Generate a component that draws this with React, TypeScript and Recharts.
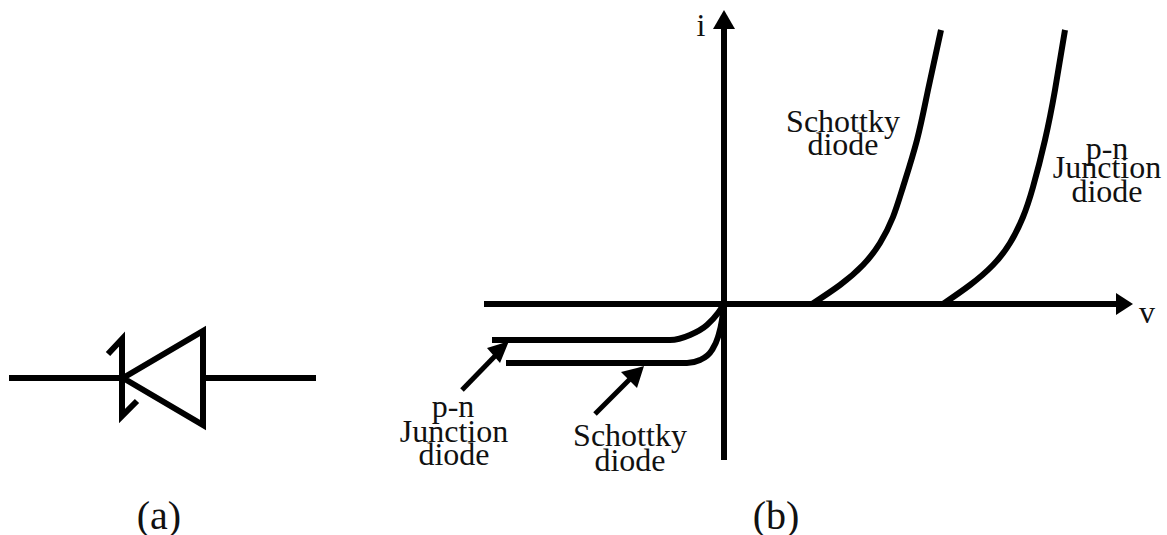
import { ComposedChart, Line, Area, ReferenceDot, XAxis, YAxis } from "recharts";

// values, one unit is about one pixel, origin where the axes cross
const schottkyForward = [
	{ v: 88, i: 0 },
	{ v: 116, i: 19 },
	{ v: 139, i: 39 },
	{ v: 156, i: 61 },
	{ v: 169, i: 87 },
	{ v: 179, i: 117 },
	{ v: 193, i: 164 },
	{ v: 204, i: 214 },
	{ v: 217, i: 274 },
];
const junctionForward = [
	{ v: 219, i: 0 },
	{ v: 246, i: 19 },
	{ v: 269, i: 39 },
	{ v: 286, i: 61 },
	{ v: 299, i: 87 },
	{ v: 309, i: 117 },
	{ v: 321, i: 164 },
	{ v: 331, i: 214 },
	{ v: 341, i: 274 },
];
const junctionReverse = [
	{ v: -232, i: -36 },
	{ v: -54, i: -36 },
	{ v: -34, i: -31 },
	{ v: -17, i: -21 },
	{ v: -6, i: -9 },
	{ v: 0, i: 0 },
];
const schottkyReverse = [
	{ v: -218, i: -59 },
	{ v: -37, i: -59 },
	{ v: -24, i: -56 },
	{ v: -12, i: -46 },
	{ v: -6, i: -33 },
	{ v: -2, i: -16 },
	{ v: 0, i: 0 },
];

// axes
const vAxisLine = [
	{ v: -240, i: 0 },
	{ v: 392, i: 0 },
];
const iAxisLine = [
	{ v: 0, i: 275 },
	{ v: 0, i: -156 },
];

// pointers from the labels
const junctionPointer = [
	{ v: -262, i: -86 },
	{ v: -228, i: -51 },
];
const schottkyPointer = [
	{ v: -129, i: -110 },
	{ v: -94, i: -75 },
];

// arrow heads, as low/high bands
const vAxisHead = [
	{ v: 392, band: [-11, 11] },
	{ v: 409, band: [0, 0] },
];
const iAxisHead = [
	{ v: -11, band: [275, 275] },
	{ v: 0, band: [275, 294] },
	{ v: 11, band: [275, 275] },
];
const junctionHead = [
	{ v: -237, band: [-44, -44] },
	{ v: -224, band: [-59, -40] },
	{ v: -215, band: [-37, -37] },
];
const schottkyHead = [
	{ v: -103, band: [-68, -68] },
	{ v: -87, band: [-84, -64] },
	{ v: -80, band: [-62, -62] },
];

// diode symbol (a)
const wireLeft = [
	{ v: -715, i: -74 },
	{ v: -601, i: -74 },
];
const wireRight = [
	{ v: -519, i: -74 },
	{ v: -408, i: -74 },
];
const triangle = [
	{ v: -601, i: -74 },
	{ v: -521, i: -27 },
	{ v: -521, i: -121 },
	{ v: -601, i: -74 },
];
const cathode = [
	{ v: -616, i: -50 },
	{ v: -602, i: -35 },
	{ v: -602, i: -112 },
	{ v: -587, i: -97 },
];

const labels = [
	{ text: "i", v: -23, i: 279, size: 32 },
	{ text: "v", v: 423, i: -8, size: 32 },
	{ text: "Schottky", v: 119, i: 183, size: 32 },
	{ text: "diode", v: 119, i: 160, size: 32 },
	{ text: "p-n", v: 383, i: 156, size: 32 },
	{ text: "Junction", v: 383, i: 137, size: 32 },
	{ text: "diode", v: 383, i: 113, size: 32 },
	{ text: "p-n", v: -271, i: -102, size: 32 },
	{ text: "Junction", v: -270, i: -127, size: 32 },
	{ text: "diode", v: -270, i: -150, size: 32 },
	{ text: "Schottky", v: -94, i: -131, size: 32 },
	{ text: "diode", v: -94, i: -156, size: 32 },
	{ text: "(a)", v: -565, i: -211, size: 40 },
	{ text: "(b)", v: 52, i: -211, size: 40 },
];

const forwardCurves = [schottkyForward, junctionForward];
const reverseCurves = [junctionReverse, schottkyReverse];
const straight = [vAxisLine, iAxisLine, wireLeft, wireRight, triangle, cathode];
const pointers = [junctionPointer, schottkyPointer];
const heads = [vAxisHead, iAxisHead, junctionHead, schottkyHead];

const INK = "#000";

export default function App() {
	return (
		<div style={{ position: "absolute", left: 0, top: 0, width: 1167, height: 535, background: "#fff" }}>
			<ComposedChart width={1167} height={535} margin={{ top: 0, right: 0, bottom: 0, left: 0 }}>
				<XAxis type="number" dataKey="v" domain={[-724, 443]} allowDataOverflow hide />
				<YAxis type="number" domain={[-231, 304]} allowDataOverflow hide />

				{straight.map((d, n) => (
					<Line
						key={`s${n}`}
						data={d}
						dataKey="i"
						type="linear"
						stroke={INK}
						strokeWidth={6}
						strokeLinejoin="miter"
						dot={false}
						activeDot={false}
						isAnimationActive={false}
					/>
				))}
				{forwardCurves.map((d, n) => (
					<Line
						key={`f${n}`}
						data={d}
						dataKey="i"
						type="natural"
						stroke={INK}
						strokeWidth={6}
						dot={false}
						activeDot={false}
						isAnimationActive={false}
					/>
				))}
				{reverseCurves.map((d, n) => (
					<Line
						key={`r${n}`}
						data={d}
						dataKey="i"
						type="monotone"
						stroke={INK}
						strokeWidth={6}
						dot={false}
						activeDot={false}
						isAnimationActive={false}
					/>
				))}
				{pointers.map((d, n) => (
					<Line
						key={`p${n}`}
						data={d}
						dataKey="i"
						type="linear"
						stroke={INK}
						strokeWidth={5}
						dot={false}
						activeDot={false}
						isAnimationActive={false}
					/>
				))}
				{heads.map((d, n) => (
					<Area
						key={`h${n}`}
						data={d}
						dataKey="band"
						type="linear"
						stroke="none"
						fill={INK}
						fillOpacity={1}
						dot={false}
						activeDot={false}
						isAnimationActive={false}
					/>
				))}
				{labels.map((l, n) => (
					<ReferenceDot
						key={`l${n}`}
						x={l.v}
						y={l.i}
						r={0}
						fill="none"
						stroke="none"
						label={{
							value: l.text,
							position: "center",
							fontSize: l.size,
							fontFamily: "'Liberation Serif', serif",
							fill: "#111",
						}}
					/>
				))}
			</ComposedChart>
		</div>
	);
}
